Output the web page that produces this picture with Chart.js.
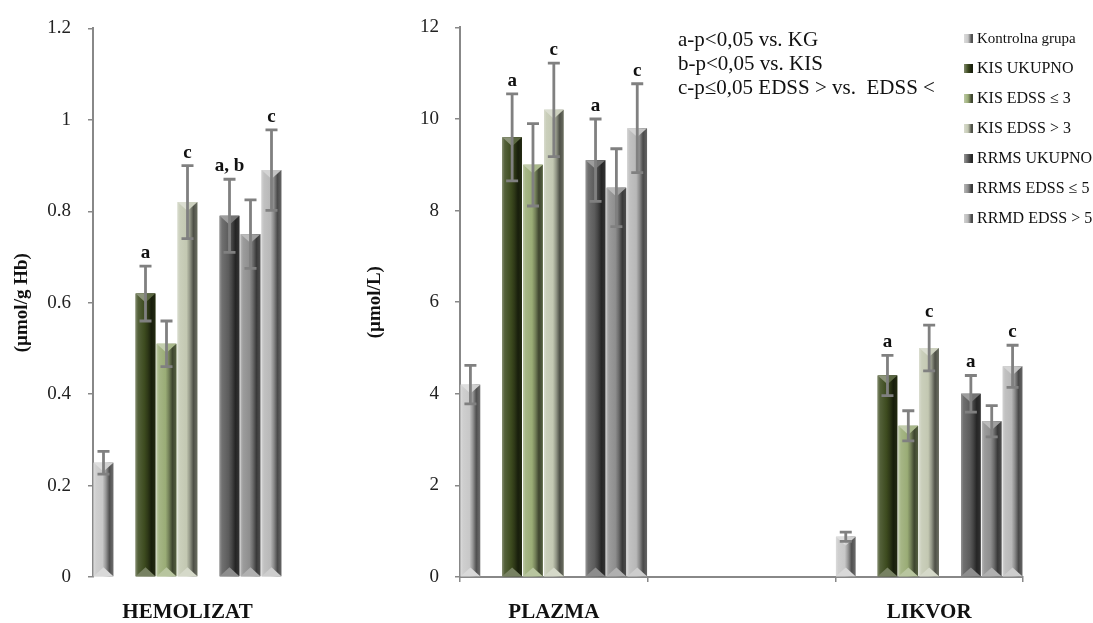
<!DOCTYPE html>
<html>
<head>
<meta charset="utf-8">
<script src="https://cdn.jsdelivr.net/npm/chart.js@4.4.0/dist/chart.umd.min.js"></script>
<style>
  body { margin: 0; background: #fff; width: 1093px; height: 623px; overflow: hidden; position: relative; font-family: "Liberation Serif", "DejaVu Serif", serif; color: #111; }
  #hemoChart { position: absolute; left: 0; top: 0; }
  #fluidChart { position: absolute; left: 330px; top: 0; }
  #notes { position: absolute; left: 678px; top: 27px; font-size: 21px; line-height: 24px; white-space: pre; }
  #legend { position: absolute; left: 964px; top: 23px; }
  #legend .row { display: flex; align-items: center; height: 30px; font-size: 16px; white-space: nowrap; }
  #legend .row.small { font-size: 15px; }
  #legend .key { width: 9px; height: 9px; margin-right: 4px; flex: none; }
</style>
</head>
<body>
<canvas id="hemoChart" width="300" height="623"></canvas>
<canvas id="fluidChart" width="763" height="623"></canvas>
<div id="notes">a-p&lt;0,05 vs. KG
b-p&lt;0,05 vs. KIS
c-p≤0,05 EDSS &gt; vs.  EDSS &lt;</div>
<div id="legend"></div>
<script>
// ---------- data ----------
const groupNames = ['Kontrolna grupa', 'KIS UKUPNO', 'KIS EDSS ≤ 3', 'KIS EDSS > 3', 'RRMS UKUPNO', 'RRMS EDSS ≤ 5', 'RRMD EDSS > 5'];
const hemoCategories = ['HEMOLIZAT'];
const fluidCategories = ['PLAZMA', '', 'LIKVOR'];

const hemolizat   = [0.25, 0.62, 0.51, 0.82, 0.79, 0.75, 0.89];
const hemolizatSd = [0.025, 0.06, 0.05, 0.08, 0.08, 0.075, 0.088];
const plazma      = [4.2, 9.6, 9.0, 10.2, 9.1, 8.5, 9.8];
const plazmaSd    = [0.42, 0.95, 0.9, 1.02, 0.9, 0.85, 0.97];
const likvor      = [0.88, 4.4, 3.3, 5.0, 4.0, 3.4, 4.6];
const likvorSd    = [0.1, 0.44, 0.33, 0.5, 0.4, 0.34, 0.46];

const hemolizatSig = ['', 'a', '', 'c', 'a, b', '', 'c'];
const plazmaSig    = ['', 'a', '', 'c', 'a', '', 'c'];
const likvorSig    = ['', 'a', '', 'c', 'a', '', 'c'];

const hemoTicks  = [0, 0.2, 0.4, 0.6, 0.8, 1, 1.2];
const fluidTicks = [0, 2, 4, 6, 8, 10, 12];

// ---------- styling ----------
const groupColors = ['#c8c8c8', '#3d4b1f', '#9aac76', '#c3c8b2', '#5c5c5c', '#8e8e8e', '#b8b8b8'];
const axisGray = '#888888';
const serif = '"Liberation Serif", "DejaVu Serif", serif';

// control bar, gap, three KIS bars, gap, three RRMS bars
const slots = [0, -1, 1, 2, 3, -1, 4, 5, 6];

function shade(hex, amt) {
  const n = parseInt(hex.slice(1), 16);
  const t = amt < 0 ? 0 : 255, p = Math.abs(amt);
  const mix = c => Math.round(c + (t - c) * p);
  return `rgb(${mix(n >> 16 & 255)},${mix(n >> 8 & 255)},${mix(n & 255)})`;
}

function makeDatasets(columns, sds, sigs) {
  return slots.map(g => {
    const common = { barPercentage: 0.94, categoryPercentage: 1, borderWidth: 0 };
    if (g < 0) return { ...common, label: '', data: columns.map(() => null), spacer: true };
    return {
      ...common,
      label: groupNames[g],
      data: columns.map(col => col ? col[g] : null),
      sd: sds.map(col => col ? col[g] : null),
      sig: sigs.map(col => col ? col[g] : ''),
      group: g,
      backgroundColor: groupColors[g]
    };
  });
}

function paintBevel(ctx, x0, x1, top, bot, c) {
  const w = x1 - x0, xc = (x0 + x1) / 2;
  const g = ctx.createLinearGradient(x0, 0, x1, 0);
  g.addColorStop(0, shade(c, 0.35));
  g.addColorStop(0.12, shade(c, 0.12));
  g.addColorStop(0.45, c);
  g.addColorStop(0.62, shade(c, -0.25));
  g.addColorStop(0.8, shade(c, -0.6));
  g.addColorStop(1, shade(c, -0.45));
  ctx.fillStyle = g;
  ctx.fillRect(x0, top, w, bot - top);
  const h = Math.min(w * 0.45, (bot - top) / 2);
  // top facet
  ctx.fillStyle = shade(c, 0.4);
  ctx.beginPath(); ctx.moveTo(x0, top); ctx.lineTo(xc, top); ctx.lineTo(xc, top + h); ctx.closePath(); ctx.fill();
  ctx.fillStyle = shade(c, 0.15);
  ctx.beginPath(); ctx.moveTo(xc, top); ctx.lineTo(x1, top); ctx.lineTo(xc, top + h); ctx.closePath(); ctx.fill();
  // bottom facet
  ctx.fillStyle = shade(c, 0.3);
  ctx.beginPath(); ctx.moveTo(x0, bot); ctx.lineTo(x1, bot); ctx.lineTo(xc, bot - h); ctx.closePath(); ctx.fill();
}

// bevelled faces, SD whiskers and significance letters on top of the bars
const barDecor = {
  id: 'barDecor',
  afterDatasetsDraw(chart) {
    const ctx = chart.ctx;
    const yScale = chart.scales.y;
    const items = [];
    chart.data.datasets.forEach((ds, i) => {
      if (ds.spacer) return;
      chart.getDatasetMeta(i).data.forEach((bar, j) => {
        if (ds.data[j] == null) return;
        items.push({ ds, j, ...bar.getProps(['x', 'y', 'base', 'width'], true) });
      });
    });
    ctx.save();
    items.forEach(it => paintBevel(ctx, it.x - it.width / 2, it.x + it.width / 2, Math.min(it.y, it.base), Math.max(it.y, it.base), groupColors[it.ds.group]));
    ctx.strokeStyle = '#808080';
    ctx.lineWidth = 2.8;
    items.forEach(it => {
      const v = it.ds.data[it.j], sd = it.ds.sd[it.j];
      const hi = yScale.getPixelForValue(v + sd), lo = yScale.getPixelForValue(v - sd);
      ctx.beginPath();
      ctx.moveTo(it.x, hi); ctx.lineTo(it.x, lo);
      ctx.moveTo(it.x - 6, hi); ctx.lineTo(it.x + 6, hi);
      ctx.moveTo(it.x - 6, lo); ctx.lineTo(it.x + 6, lo);
      ctx.stroke();
    });
    ctx.fillStyle = '#111';
    ctx.font = 'bold 19px ' + serif;
    ctx.textAlign = 'center';
    ctx.textBaseline = 'alphabetic';
    items.forEach(it => {
      const s = it.ds.sig[it.j];
      if (!s) return;
      const hi = yScale.getPixelForValue(it.ds.data[it.j] + it.ds.sd[it.j]);
      ctx.fillText(s, it.x, hi - 8);
    });
    ctx.restore();
  }
};

function yAxis(ticks, width, title, titlePad, tickPad) {
  return {
    min: ticks[0], max: ticks[ticks.length - 1],
    afterBuildTicks: s => { s.ticks = ticks.map(v => ({ value: v })); },
    afterFit: s => { s.width = width; },
    border: { display: true, color: axisGray, width: 2 },
    grid: { drawOnChartArea: false, drawTicks: true, tickLength: 5, color: axisGray, lineWidth: 1.5 },
    ticks: { padding: tickPad, color: '#222', font: { family: serif, size: 19 }, callback: v => String(v) },
    title: { display: true, text: title, color: '#111', font: { family: serif, size: 19, weight: 'bold' }, padding: { top: titlePad, bottom: 0 } }
  };
}

const baseOptions = {
  responsive: false,
  animation: false,
  devicePixelRatio: 1,
  plugins: { legend: { display: false }, tooltip: { enabled: false } }
};

new Chart(document.getElementById('hemoChart'), {
  type: 'bar',
  data: { labels: hemoCategories, datasets: makeDatasets([hemolizat], [hemolizatSd], [hemolizatSig]) },
  options: {
    ...baseOptions,
    layout: { padding: { top: 23, right: 18, left: 0, bottom: 0 } },
    scales: {
      x: {
        afterFit: s => { s.height = 46; },
        border: { display: false },
        grid: { display: false, drawTicks: false },
        ticks: { padding: 23, color: '#111', font: { family: serif, size: 21, weight: 'bold' } }
      },
      y: yAxis(hemoTicks, 93, '(µmol/g Hb)', 11, 17)
    }
  },
  plugins: [barDecor]
});

new Chart(document.getElementById('fluidChart'), {
  type: 'bar',
  data: { labels: fluidCategories, datasets: makeDatasets([plazma, null, likvor], [plazmaSd, null, likvorSd], [plazmaSig, null, likvorSig]) },
  options: {
    ...baseOptions,
    layout: { padding: { top: 23, right: 70, left: 0, bottom: 0 } },
    scales: {
      x: {
        afterFit: s => { s.height = 46; },
        border: { display: true, color: axisGray, width: 2 },
        grid: { drawOnChartArea: false, drawTicks: true, tickLength: 5, color: axisGray, lineWidth: 1.5 },
        ticks: { padding: 18, color: '#111', font: { family: serif, size: 21, weight: 'bold' } }
      },
      y: yAxis(fluidTicks, 130, '(µmol/L)', 34, 16)
    }
  },
  plugins: [barDecor]
});

// ---------- legend ----------
const legend = document.getElementById('legend');
groupNames.forEach((name, g) => {
  const row = document.createElement('div');
  row.className = 'row' + (g === 0 ? ' small' : '');
  const key = document.createElement('span');
  key.className = 'key';
  const c = groupColors[g];
  key.style.background = `linear-gradient(90deg, ${shade(c, 0.35)} 0%, ${c} 45%, ${shade(c, -0.6)} 85%)`;
  const label = document.createElement('span');
  label.textContent = name;
  row.append(key, label);
  legend.append(row);
});
</script>
</body>
</html>
